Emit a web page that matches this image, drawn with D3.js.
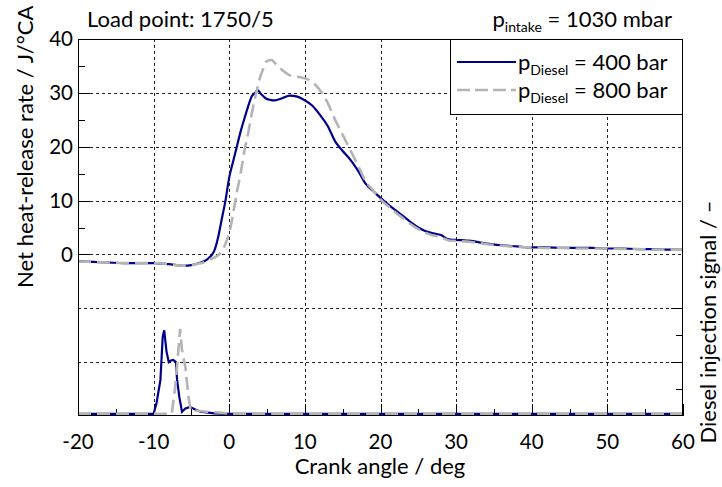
<!DOCTYPE html>
<html>
<head>
<meta charset="utf-8">
<script src="https://cdn.jsdelivr.net/npm/d3@7"></script>
<style>
  html, body { margin: 0; padding: 0; background: #fff; }
  svg { display: block; font-family: Lato, "Open Sans", sans-serif; }
</style>
</head>
<body>
<svg id="chart" width="722" height="487"></svg>
<script>
// ---------- DATA ----------
const xTicks = [-20, -10, 0, 10, 20, 30, 40, 50, 60];
const yTicks = [0, 10, 20, 30, 40];

// Net heat-release rate, p_Diesel = 400 bar
const hrr400Angle = [-20,-18,-16,-14,-12,-10,-8,-6,-5,-4,-3,-2.5,-2,-1.5,-1,-0.5,0,0.5,1,1.5,2,2.5,3,3.5,3.75,4.2,4.8,5.4,6,7,8,9,10,11,12,13,14,15,16,17,18,19,20,21,22,23,24,25,26,27,28,29,30,32,34,36,38,40,42,44,46,48,50,52,54,56,58,60];
const hrr400 = [-1.3,-1.4,-1.5,-1.6,-1.6,-1.6,-1.8,-2.1,-2.0,-1.6,-1.0,-0.4,0.6,3.0,6.5,10.0,14.3,17.2,20.0,22.8,25.2,27.5,29.4,30.1,30.5,29.8,29.0,28.7,28.6,29.0,29.5,29.3,28.6,27.6,25.9,23.9,21.0,19.2,17.6,15.6,13.2,11.8,10.5,9.3,8.2,7.1,6.0,5.0,4.3,3.9,3.6,2.8,2.7,2.5,2.0,1.7,1.5,1.3,1.3,1.2,1.2,1.2,1.1,1.1,1.0,1.0,0.9,0.9];

// Net heat-release rate, p_Diesel = 800 bar
const hrr800Angle = [-20,-18,-16,-14,-12,-10,-8,-6,-5,-4,-3,-2.5,-2,-1.5,-1,-0.5,0,0.5,1,1.5,2,2.5,3,3.5,4,4.5,5,5.6,6,6.7,7.5,8.1,9.4,10.7,11.3,12,13,14,15,16,17,18,19,20,21,22,23,24,25,26,27,28,29,30,32,34,36,38,40,42,44,46,48,50,52,54,56,58,60];
const hrr800 = [-1.3,-1.4,-1.5,-1.6,-1.6,-1.6,-1.8,-2.1,-2.0,-1.7,-1.3,-0.9,-0.6,-0.2,0.6,2.0,4.0,7.5,11.5,15.0,19.2,22.5,26.3,29.6,32.5,34.5,35.9,36.1,35.6,34.6,33.7,33.2,32.9,32.3,31.6,30.5,28.2,25.0,22.2,19.4,16.6,13.7,11.9,10.2,9.0,7.8,6.7,5.6,4.7,4.0,3.5,3.2,2.6,2.5,2.3,1.9,1.6,1.4,1.3,1.2,1.2,1.1,1.1,1.1,1.0,1.0,0.9,0.9,0.9];

// Diesel injection signal (right axis)
const inj400Angle = [-20,-10.0,-9.6,-9.1,-8.8,-8.6,-8.3,-8.0,-7.7,-7.4,-7.05,-6.9,-6.6,-6.25,-5.8,-5.2,-4.5,-3.8,-2,0,60];
const inj400 = [0.04,0.04,0.25,0.67,1.47,1.59,1.2,1.0,1.03,1.04,1.0,0.67,0.35,0.08,0.14,0.17,0.12,0.08,0.05,0.04,0.04];
const inj800Angle = [-20,-7.6,-7.15,-6.8,-6.5,-6.25,-5.8,-5.4,-5.1,-3,-1,0,60];
const inj800 = [0.04,0.04,0.54,1.1,1.62,1.22,0.91,0.36,0.11,0.08,0.06,0.04,0.04];

// ---------- LAYOUT ----------
const svg = d3.select("#chart");
const L = 78, R = 683, T = 39, B = 416;
const blue = "#00008c", grey = "#b4b4b4";

const x = d3.scaleLinear().domain([-20, 60]).range([L, R]);
const yL = d3.scaleLinear().domain([-30, 40]).range([B, T]);
const yR = d3.scaleLinear().domain([0, 3]).range([B, yL(0)]);

// clip
svg.append("defs").append("clipPath").attr("id", "clip")
  .append("rect").attr("x", L).attr("y", T).attr("width", R - L).attr("height", B - T);

// grid
const grid = svg.append("g").attr("stroke", "#222").attr("stroke-width", 1)
  .attr("stroke-dasharray", "2.5,3.5").attr("shape-rendering", "crispEdges");
d3.range(-10, 60, 10).forEach(v => {
  grid.append("line").attr("x1", Math.round(x(v)) + 0.5).attr("x2", Math.round(x(v)) + 0.5)
    .attr("y1", T).attr("y2", B);
});
d3.range(-20, 40, 10).forEach(v => {
  grid.append("line").attr("y1", Math.round(yL(v)) + 0.5).attr("y2", Math.round(yL(v)) + 0.5)
    .attr("x1", L).attr("x2", R);
});

// axes (inward ticks)
const axisG = svg.append("g").attr("stroke", "#000").attr("stroke-width", 1).attr("shape-rendering", "crispEdges");
d3.range(0, 41, 5).forEach(v => {
  const len = v % 10 === 0 ? 12 : 7;
  axisG.append("line").attr("x1", L).attr("x2", L + len)
    .attr("y1", Math.round(yL(v)) + 0.5).attr("y2", Math.round(yL(v)) + 0.5);
});
d3.range(-20, 61, 5).forEach(v => {
  const len = v % 10 === 0 ? 12 : 7;
  axisG.append("line").attr("y1", B).attr("y2", B - len)
    .attr("x1", Math.round(x(v)) + 0.5).attr("x2", Math.round(x(v)) + 0.5);
});
[0.5, 1, 1.5, 2].forEach(v => {
  const len = v % 1 === 0 ? 12 : 7;
  axisG.append("line").attr("x1", R).attr("x2", R - len)
    .attr("y1", Math.round(yR(v)) + 0.5).attr("y2", Math.round(yR(v)) + 0.5);
});

// curves
const plot = svg.append("g").attr("clip-path", "url(#clip)");
const lineL = d3.line().x(d => x(d[0])).y(d => yL(d[1])).curve(d3.curveMonotoneX);
const lineR = d3.line().x(d => x(d[0])).y(d => yR(d[1])).curve(d3.curveLinear);

plot.append("path").datum(d3.zip(inj400Angle, inj400)).attr("d", lineR)
  .attr("fill", "none").attr("stroke", blue).attr("stroke-width", 2.2);
plot.append("path").datum(d3.zip(hrr400Angle, hrr400)).attr("d", lineL)
  .attr("fill", "none").attr("stroke", blue).attr("stroke-width", 2.2);
plot.append("path").datum(d3.zip(inj800Angle, inj800)).attr("d", lineR)
  .attr("fill", "none").attr("stroke", grey).attr("stroke-width", 2.6).attr("stroke-dasharray", "13,6");
plot.append("path").datum(d3.zip(hrr800Angle, hrr800)).attr("d", lineL)
  .attr("fill", "none").attr("stroke", grey).attr("stroke-width", 2.6).attr("stroke-dasharray", "13,6");

// frame
svg.append("rect").attr("x", L + 0.5).attr("y", T + 0.5).attr("width", R - L - 1).attr("height", B - T - 1)
  .attr("fill", "none").attr("stroke", "#000").attr("stroke-width", 1).attr("shape-rendering", "crispEdges");

// tick labels
const fsTick = 20.5, fs = 22;
svg.append("g").selectAll("text").data(yTicks).join("text")
  .attr("x", L - 5).attr("y", d => yL(d)).attr("dy", "0.36em")
  .attr("text-anchor", "end").attr("font-size", fsTick).attr("fill", "#000").text(d => d);
svg.append("g").selectAll("text").data(xTicks).join("text")
  .attr("x", d => x(d)).attr("y", 449)
  .attr("text-anchor", "middle").attr("font-size", fsTick).attr("fill", "#000").text(d => d);

// axis titles
svg.append("text").attr("x", 380).attr("y", 474).attr("text-anchor", "middle")
  .attr("font-size", fs).text("Crank angle / deg");
svg.append("text").attr("transform", `translate(33,${(T + yL(0)) / 2}) rotate(-90)`)
  .attr("text-anchor", "middle").attr("font-size", fs).text("Net heat-release rate / J/°CA");
svg.append("text").attr("transform", `translate(716,322) rotate(-90)`)
  .attr("text-anchor", "middle").attr("font-size", 22).text("Diesel injection signal / –");

// header texts
svg.append("text").attr("x", 87).attr("y", 27).attr("font-size", fs).text("Load point: 1750/5");
const pt = svg.append("text").attr("x", 672).attr("y", 27).attr("text-anchor", "end").attr("font-size", fs);
pt.append("tspan").text("p");
pt.append("tspan").attr("font-size", 14).attr("dy", 5).text("intake");
pt.append("tspan").attr("dy", -5).text(" = 1030 mbar");

// legend
const lg = svg.append("g");
lg.append("rect").attr("x", 450.5).attr("y", T + 0.5).attr("width", R - 451).attr("height", 75)
  .attr("fill", "#fff").attr("stroke", "#000").attr("stroke-width", 1).attr("shape-rendering", "crispEdges");
const legendItems = [
  {label: "400", color: blue, dash: null, w: 2.2, y: 62},
  {label: "800", color: grey, dash: "13,5", w: 2.6, y: 90}
];
legendItems.forEach(it => {
  lg.append("line").attr("x1", 457).attr("x2", 516).attr("y1", it.y).attr("y2", it.y)
    .attr("stroke", it.color).attr("stroke-width", it.w).attr("stroke-dasharray", it.dash);
  const t = lg.append("text").attr("x", 518).attr("y", it.y + 8).attr("font-size", fs);
  t.append("tspan").text("p");
  t.append("tspan").attr("font-size", 14).attr("dy", 5).text("Diesel");
  t.append("tspan").attr("dy", -5).text(` = ${it.label} bar`);
});
</script>
</body>
</html>
